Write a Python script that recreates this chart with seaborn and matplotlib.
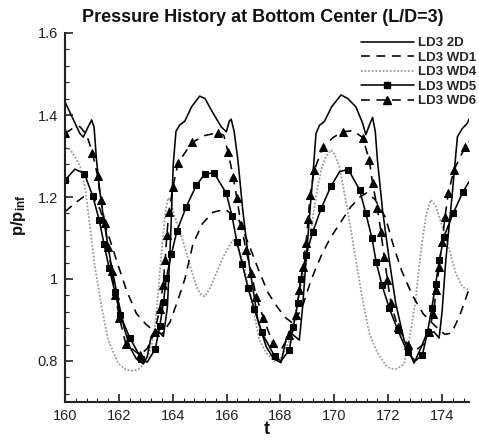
import matplotlib
matplotlib.use("Agg")
import matplotlib.pyplot as plt
from matplotlib.lines import Line2D
from matplotlib.ticker import MultipleLocator, FuncFormatter
import seaborn as sns

# ---- pressure histories p/p_inf versus time t ----
t_2d = [160.0, 160.3, 160.55, 160.68, 160.85, 160.99, 161.08, 161.17, 161.3, 161.45,
        161.7, 162.0, 162.2, 162.4, 162.65, 162.9, 163.05, 163.2, 163.35, 163.5,
        163.65, 163.8, 163.92, 164.02, 164.12, 164.25, 164.45, 164.7, 165.0, 165.2,
        165.45, 165.8, 165.99, 166.1, 166.17, 166.28, 166.42, 166.6, 166.85, 167.16,
        167.47, 167.75, 168.02, 168.2, 168.33, 168.5, 168.7, 168.82, 168.95, 169.1,
        169.2, 169.32, 169.45, 169.63, 169.9, 170.25, 170.5, 170.8, 171.05, 171.17,
        171.3, 171.42, 171.52, 171.6, 171.79, 172.04, 172.28, 172.59, 172.96, 173.2,
        173.44, 173.7, 173.89, 174.0, 174.14, 174.38, 174.57, 174.75, 174.94, 175.0]
p_2d = [1.432, 1.39, 1.355, 1.346, 1.37, 1.388, 1.37, 1.29, 1.21, 1.14,
        1.04, 0.94, 0.88, 0.835, 0.805, 0.793, 0.81, 0.86, 0.875, 0.87,
        0.86, 0.93, 1.10, 1.28, 1.36, 1.375, 1.385, 1.42, 1.446, 1.44,
        1.41, 1.371, 1.359, 1.385, 1.39, 1.36, 1.29, 1.168, 1.03, 0.90,
        0.835, 0.805, 0.796, 0.85, 0.873, 0.862, 0.851, 0.93, 1.046, 1.17,
        1.25, 1.355, 1.375, 1.384, 1.42, 1.449, 1.44, 1.42, 1.38, 1.352,
        1.375, 1.394, 1.36, 1.29, 1.168, 1.046, 0.94, 0.851, 0.795, 0.83,
        0.868, 0.871, 0.856, 0.92, 1.046, 1.209, 1.347, 1.367, 1.38, 1.39]

t_wd1 = [160.0, 160.37, 160.7, 161.0, 161.3, 161.6, 161.91, 162.28, 162.65, 163.0,
         163.3, 163.6, 163.9, 164.2, 164.45, 164.75, 165.1, 165.5, 165.95, 166.45,
         166.85, 167.2, 167.55, 167.9, 168.2, 168.5, 168.85, 169.15, 169.5, 169.85,
         170.2, 170.6, 170.95, 171.2, 171.5, 171.9, 172.2, 172.5, 172.9, 173.3,
         173.75, 174.1, 174.35, 174.65, 175.0]
p_wd1 = [1.164, 1.185, 1.201, 1.205, 1.17, 1.11, 1.046, 0.973, 0.916, 0.89,
         0.873, 0.866, 0.895, 0.95, 1.0, 1.085, 1.135, 1.163, 1.17, 1.145,
         1.08, 1.02, 0.965, 0.93, 0.905, 0.89, 0.94, 1.0, 1.055, 1.10,
         1.135, 1.175, 1.20, 1.21, 1.195, 1.15, 1.08, 1.02, 0.96, 0.915,
         0.885, 0.865, 0.868, 0.91, 0.975]

t_wd4 = [160.0, 160.2, 160.4, 160.56, 160.74, 160.93, 161.11, 161.36, 161.6, 161.98,
         162.28, 162.55, 162.78, 163.0, 163.21, 163.35, 163.46, 163.55, 163.64, 163.72,
         163.83, 163.92, 164.07, 164.3, 164.51, 164.7, 164.88, 165.05, 165.19, 165.4,
         165.62, 165.85, 166.11, 166.23, 166.4, 166.6, 166.91, 167.22, 167.47, 167.75,
         168.0, 168.3, 168.6, 168.85, 169.07, 169.2, 169.38, 169.55, 169.69, 169.88,
         170.0, 170.19, 170.49, 170.8, 171.05, 171.3, 171.6, 171.91, 172.1, 172.3,
         172.5, 172.59, 172.78, 173.02, 173.15, 173.27, 173.42, 173.58, 173.75, 173.89,
         174.05, 174.2, 174.51, 174.75, 175.0]
p_wd4 = [1.321, 1.315, 1.295, 1.274, 1.225, 1.128, 1.03, 0.932, 0.851, 0.794,
         0.778, 0.776, 0.782, 0.80, 0.835, 0.89, 0.965, 1.04, 1.103, 1.16,
         1.198, 1.19, 1.152, 1.11, 1.063, 1.02, 0.981, 0.962, 0.957, 0.98,
         1.014, 1.05, 1.083, 1.095, 1.08, 1.046, 0.949, 0.851, 0.82, 0.80,
         0.805, 0.845, 0.93, 1.01, 1.079, 1.15, 1.225, 1.275, 1.298, 1.315,
         1.305, 1.274, 1.168, 1.046, 0.949, 0.867, 0.82, 0.79, 0.781, 0.781,
         0.788, 0.794, 0.851, 0.949, 1.03, 1.095, 1.16, 1.193, 1.18, 1.152,
         1.12, 1.087, 1.014, 0.981, 0.973]

t_wd5 = [160.0, 160.37, 160.72, 161.03, 161.27, 161.45, 161.64, 161.85, 162.06, 162.4,
         162.84, 163.05, 163.35, 163.52, 163.66, 163.76, 163.95, 164.16, 164.5, 164.88,
         165.19, 165.53, 165.99, 166.2, 166.38, 166.58, 166.8, 167.03, 167.3, 167.78,
         168.02, 168.33, 168.48, 168.64, 168.75, 168.95, 169.2, 169.51, 169.88, 170.2,
         170.52, 170.94, 171.17, 171.4, 171.55, 171.77, 172.04, 172.35, 172.72, 173.0,
         173.27, 173.46, 173.62, 173.76, 173.9, 174.07, 174.41, 174.78, 175.0]
p_wd5 = [1.241, 1.268, 1.257, 1.202, 1.144, 1.085, 1.026, 0.969, 0.911, 0.857,
         0.805, 0.797, 0.829, 0.885, 0.945, 1.002, 1.061, 1.118, 1.176, 1.229,
         1.256, 1.259, 1.209, 1.154, 1.091, 1.037, 0.977, 0.927, 0.87, 0.812,
         0.80, 0.827, 0.884, 0.941, 0.999, 1.059, 1.115, 1.172, 1.227, 1.262,
         1.267, 1.217, 1.16, 1.099, 1.042, 0.985, 0.929, 0.876, 0.821, 0.80,
         0.815, 0.871, 0.929, 0.988, 1.046, 1.103, 1.16, 1.213, 1.237]

t_wd6 = [160.0, 160.3, 160.55, 160.8, 161.02, 161.21, 161.33, 161.48, 161.6, 161.73,
         161.87, 162.02, 162.26, 162.78, 163.05, 163.33, 163.52, 163.64, 163.72, 163.78,
         163.86, 164.01, 164.2, 164.72, 165.2, 165.68, 165.9, 166.05, 166.25, 166.38,
         166.54, 166.72, 166.92, 167.1, 167.37, 167.72, 168.0, 168.33, 168.58, 168.7,
         168.83, 168.95, 169.03, 169.1, 169.26, 169.57, 169.95, 170.31, 170.7, 171.05,
         171.3, 171.42, 171.6, 171.73, 171.85, 171.97, 172.1, 172.35, 172.72, 173.0,
         173.3, 173.5, 173.67, 173.79, 173.89, 174.0, 174.11, 174.23, 174.44, 174.85,
         175.0]
p_wd6 = [1.355, 1.368, 1.372, 1.352, 1.308, 1.251, 1.193, 1.136, 1.079, 1.02,
         0.962, 0.905, 0.841, 0.815, 0.83, 0.871, 0.928, 0.985, 1.046, 1.107,
         1.164, 1.225, 1.284, 1.333, 1.35, 1.357, 1.35, 1.31, 1.248, 1.197,
         1.132, 1.071, 1.014, 0.957, 0.904, 0.843, 0.825, 0.863, 0.912, 0.973,
         1.03, 1.087, 1.146, 1.205, 1.266, 1.321, 1.345, 1.359, 1.362, 1.345,
         1.29, 1.233, 1.172, 1.115, 1.054, 0.998, 0.941, 0.884, 0.84, 0.825,
         0.84, 0.87, 0.915, 0.973, 1.03, 1.09, 1.152, 1.209, 1.266, 1.321,
         1.335]

series_labels = ["LD3 2D", "LD3 WD1", "LD3 WD4", "LD3 WD5", "LD3 WD6"]
x_ticks = [160, 162, 164, 166, 168, 170, 172, 174]
y_ticks = [0.8, 1.0, 1.2, 1.4, 1.6]

# samples carrying no symbol (between plotted symbols)
wd5_plain = {1, 11, 30, 39, 49, 58}
wd6_plain = {1, 2, 3, 14, 24, 26, 36, 46, 48, 59, 60, 70}

sns.set_style("ticks")
plt.rcParams["font.family"] = ["Liberation Sans", "DejaVu Sans"]
plt.rcParams["mathtext.fontset"] = "custom"
plt.rcParams["mathtext.rm"] = "Liberation Sans"
plt.rcParams["mathtext.bf"] = "Liberation Sans:bold"

W, H = 479, 441
fig = plt.figure(figsize=(W / 100, H / 100), dpi=100)
ax = fig.add_axes([65 / W, 39 / H, 404 / W, 369 / H])

LW = 1.15
dash = (0, (5.5, 4.2))
dot = (0, (1, 1))
grey = "#9a9a9a"
sq = dict(marker="s", markersize=4.6, markerfacecolor="k", markeredgecolor="k")
tri = dict(marker="^", markersize=5.2, markerfacecolor="k", markeredgecolor="k")

common = dict(ax=ax, sort=False, estimator=None, legend=False)
sns.lineplot(x=t_wd4, y=p_wd4, color=grey, lw=1.3, linestyle=dot, **common)
sns.lineplot(x=t_wd1, y=p_wd1, color="k", lw=LW, linestyle=dash, **common)
sns.lineplot(x=t_2d, y=p_2d, color="k", lw=LW, **common)
sns.lineplot(x=t_wd5, y=p_wd5, color="k", lw=LW,
             markevery=[i not in wd5_plain for i in range(len(t_wd5))], **sq, **common)
sns.lineplot(x=t_wd6, y=p_wd6, color="k", lw=LW, linestyle=dash,
             markevery=[i not in wd6_plain for i in range(len(t_wd6))], **tri, **common)

ax.set_xlim(160, 175)
ax.set_ylim(0.7, 1.6)
ax.set_xticks(x_ticks)
ax.set_yticks(y_ticks)
ax.xaxis.set_minor_locator(MultipleLocator(0.4))
ax.yaxis.set_minor_locator(MultipleLocator(0.04))
ax.yaxis.set_major_formatter(FuncFormatter(lambda v, _: f"{v:g}"))
ax.set_xlabel("")
ax.set_ylabel("")
for s in ("top", "right"):
    ax.spines[s].set_visible(False)
for s in ("left", "bottom"):
    ax.spines[s].set_linewidth(1.5)
    ax.spines[s].set_color("#222222")
ax.tick_params(which="major", direction="in", length=6, width=1.2,
               labelsize=10.5, colors="#222222", pad=5)
ax.tick_params(which="minor", direction="in", length=3, width=0.8, colors="#222222")

handles = [
    Line2D([], [], color="k", lw=LW),
    Line2D([], [], color="k", lw=LW, linestyle=dash),
    Line2D([], [], color=grey, lw=1.3, linestyle=dot),
    Line2D([], [], color="k", lw=LW, **sq),
    Line2D([], [], color="k", lw=LW, linestyle=dash, **tri),
]
ax.legend(handles, series_labels, loc="upper right",
          bbox_to_anchor=(476 / W, 1 - 37 / H), bbox_transform=fig.transFigure,
          frameon=False, handlelength=4.0, handletextpad=0.3, labelspacing=0.17,
          numpoints=1, borderpad=0, borderaxespad=0,
          prop=dict(weight="bold", size=9.5))

fig.text(263 / W, 1 - 18 / H, "Pressure History at Bottom Center (L/D=3)",
         ha="center", va="center", fontsize=13, weight="bold", color="#111111")
fig.text(18 / W, 1 - 215 / H, r"$\mathbf{p/p_{inf}}$", rotation=90,
         ha="center", va="center", fontsize=12, color="#111111")
fig.text(267 / W, 1 - 430 / H, "t", ha="center", va="center",
         fontsize=13, weight="bold", color="#111111")

fig.savefig("out.png", dpi=100)
